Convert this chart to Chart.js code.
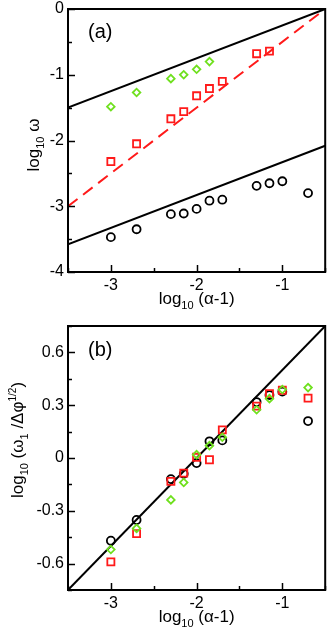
<!DOCTYPE html>
<html>
<head>
<meta charset="utf-8">
<script src="https://cdn.jsdelivr.net/npm/chart.js@4"></script>
<style>
  body { margin: 0; background: #fff; }
  .panel { position: absolute; left: 0; width: 332px; }
</style>
</head>
<body>
<div class="panel" style="top:0;height:318px"><canvas id="chartA"></canvas></div>
<div class="panel" style="top:318px;height:319px"><canvas id="chartB"></canvas></div>
<script>
// log10(alpha-1) values
const alphaX = [-3, -2.7, -2.3, -2.15, -2, -1.85, -1.7, -1.3, -1.15, -1, -0.7];

// panel (a): log10 omega
const omegaCircles  = [-3.47, -3.35, -3.12, -3.11, -3.04, -2.915, -2.90, -2.69, -2.65, -2.62, -2.80];
const omegaSquares  = [-2.32, -2.05, -1.67, -1.56, -1.32, -1.21, -1.10, -0.68, -0.64];
const omegaDiamonds = [-1.486, -1.27, -1.06, -1.0, -0.917, -0.80];

// panel (b): log10(omega1 / dphi^1/2)
const ratioCircles  = [-0.47, -0.352, -0.12, -0.09, -0.029, 0.095, 0.10, 0.318, 0.358, 0.377, 0.21];
const ratioSquares  = [-0.59, -0.43, -0.133, -0.086, 0.004, -0.01, 0.16, 0.295, 0.366, 0.385, 0.34];
const ratioDiamonds = [-0.52, -0.40, -0.238, -0.139, 0.019, 0.07, 0.118, 0.274, 0.337, 0.389, 0.40];

// guide lines: [slope, intercept]
const fitUpperA = [0.5, 0.25];
const fitRedA   = [1, 0.5];
const fitLowerA = [0.5, -1.83];
const fitB      = [0.5, 1];

const xRange = [-3.5, -0.5];
const yRangeA = [-4, 0];
const yRangeB = [-0.75, 0.75];

const RED = '#ff1a1a';
const GREEN = '#6fe01e';
const FONT = 'Liberation Sans, Arial, sans-serif';

const pts = (xs, ys) => ys.map((y, i) => ({ x: xs[i], y: y }));
const fitLine = f => xRange.map(x => ({ x: x, y: f[0] * x + f[1] }));

function markers(data, style, color, r) {
  return {
    type: 'scatter', data: data, pointStyle: style, pointRadius: r, pointHoverRadius: r,
    borderColor: color, backgroundColor: 'transparent', pointBorderWidth: 1.8
  };
}
function line(data, color, dash) {
  return {
    type: 'line', data: data, borderColor: color, borderWidth: 2, borderDash: dash || [],
    pointRadius: 0, fill: false, tension: 0
  };
}

// draws text pieces with sub/superscripts, centred on (cx, cy) baseline
function drawRich(ctx, parts, cx, cy, rot) {
  const size = p => (p[1] ? (p[1] > 0 ? 10 : 11) : 17);
  ctx.save();
  ctx.translate(cx, cy);
  if (rot) ctx.rotate(-Math.PI / 2);
  let w = 0;
  parts.forEach(p => {
    ctx.font = size(p) + 'px ' + FONT;
    w += ctx.measureText(p[0]).width;
  });
  let x = -w / 2;
  ctx.fillStyle = '#000';
  ctx.textBaseline = 'alphabetic';
  parts.forEach(p => {
    ctx.font = size(p) + 'px ' + FONT;
    const dy = p[1] < 0 ? 5 : (p[1] > 0 ? -7 : 0);
    ctx.fillText(p[0], x, dy);
    x += ctx.measureText(p[0]).width;
  });
  ctx.restore();
}

function decorPlugin(tag, yTitle, yTitlePos, labelStep) {
  const isMajor = (v, s) => Math.abs(v / s - Math.round(v / s)) < 1e-6;
  return {
    id: 'decor' + tag,
    afterDraw(chart) {
      const { ctx, chartArea: a, scales } = chart;
      ctx.save();
      ctx.strokeStyle = '#000';
      ctx.lineWidth = 1.5;
      scales.x.ticks.forEach(t => {
        const px = Math.round(scales.x.getPixelForValue(t.value)) + 0.5;
        const len = isMajor(t.value, 1) ? 7 : 4;
        ctx.beginPath(); ctx.moveTo(px, a.bottom); ctx.lineTo(px, a.bottom - len); ctx.stroke();
      });
      scales.y.ticks.forEach(t => {
        const py = Math.round(scales.y.getPixelForValue(t.value)) + 0.5;
        const len = isMajor(t.value, labelStep) ? 7 : 4;
        ctx.beginPath(); ctx.moveTo(a.left, py); ctx.lineTo(a.left + len, py); ctx.stroke();
      });
      ctx.lineWidth = 2;
      ctx.strokeRect(a.left, a.top, a.right - a.left, a.bottom - a.top);
      ctx.fillStyle = '#000';
      ctx.font = '20px ' + FONT;
      ctx.fillText('(' + tag + ')', 88, 38);
      ctx.restore();
      drawRich(ctx, [['log', 0], ['10', -1], [' (\u03b1-1)', 0]], (a.left + a.right) / 2, 304, false);
      drawRich(ctx, yTitle, yTitlePos[0], yTitlePos[1], true);
    }
  };
}

function scaleOpts(range, step, labelStep, size) {
  return {
    type: 'linear', min: range[0], max: range[1],
    grid: { display: false, drawTicks: false },
    border: { display: false },
    afterFit: s => {
      if (s.isHorizontal()) s.height = size; else s.width = size;
      s.paddingTop = s.paddingBottom = s.paddingLeft = s.paddingRight = 0;
    },
    ticks: {
      stepSize: step, padding: 4, color: '#000', autoSkip: false, maxRotation: 0,
      font: { size: 16, family: FONT },
      callback: v => {
        const k = v / labelStep;
        if (Math.abs(k - Math.round(k)) > 1e-6) return '';
        const r = Math.round(v * 100) / 100;
        return r === 0 ? '0' : String(r);
      }
    }
  };
}

function makeChart(id, tag, datasets, yRange, yStep, yLabelStep, yTitle, yTitlePos, padTop, h) {
  return new Chart(document.getElementById(id), {
    data: { datasets: datasets },
    options: {
      responsive: true, maintainAspectRatio: false, animation: false,
      layout: { padding: { top: padTop, right: 2, left: 0, bottom: 0 } },
      plugins: { legend: { display: false }, tooltip: { enabled: false } },
      scales: {
        x: scaleOpts(xRange, 0.5, 1, h),
        y: scaleOpts(yRange, yStep, yLabelStep, 68)
      }
    },
    plugins: [decorPlugin(tag, yTitle, yTitlePos, yLabelStep)]
  });
}

makeChart('chartA', 'a', [
  markers(pts(alphaX, omegaDiamonds), 'rectRot', GREEN, 3.8),
  markers(pts(alphaX, omegaSquares), 'rect', RED, 5),
  markers(pts(alphaX, omegaCircles), 'circle', '#000', 4),
  line(fitLine(fitUpperA), '#000'),
  line(fitLine(fitRedA), RED, [12, 7]),
  line(fitLine(fitLowerA), '#000')
], yRangeA, 0.5, 1,
  [['log', 0], ['10', -1], [' \u03c9', 0]], [39, 145], 9, 46);

makeChart('chartB', 'b', [
  markers(pts(alphaX, ratioDiamonds), 'rectRot', GREEN, 3.8),
  markers(pts(alphaX, ratioSquares), 'rect', RED, 5),
  markers(pts(alphaX, ratioCircles), 'circle', '#000', 4),
  line(fitLine(fitB), '#000')
], yRangeB, 0.15, 0.3,
  [['log', 0], ['10', -1], [' (\u03c9', 0], ['1', -1], [' /\u0394\u03c6', 0], ['1/2', 1], [')', 0]], [23, 122], 8, 47);
</script>
</body>
</html>
